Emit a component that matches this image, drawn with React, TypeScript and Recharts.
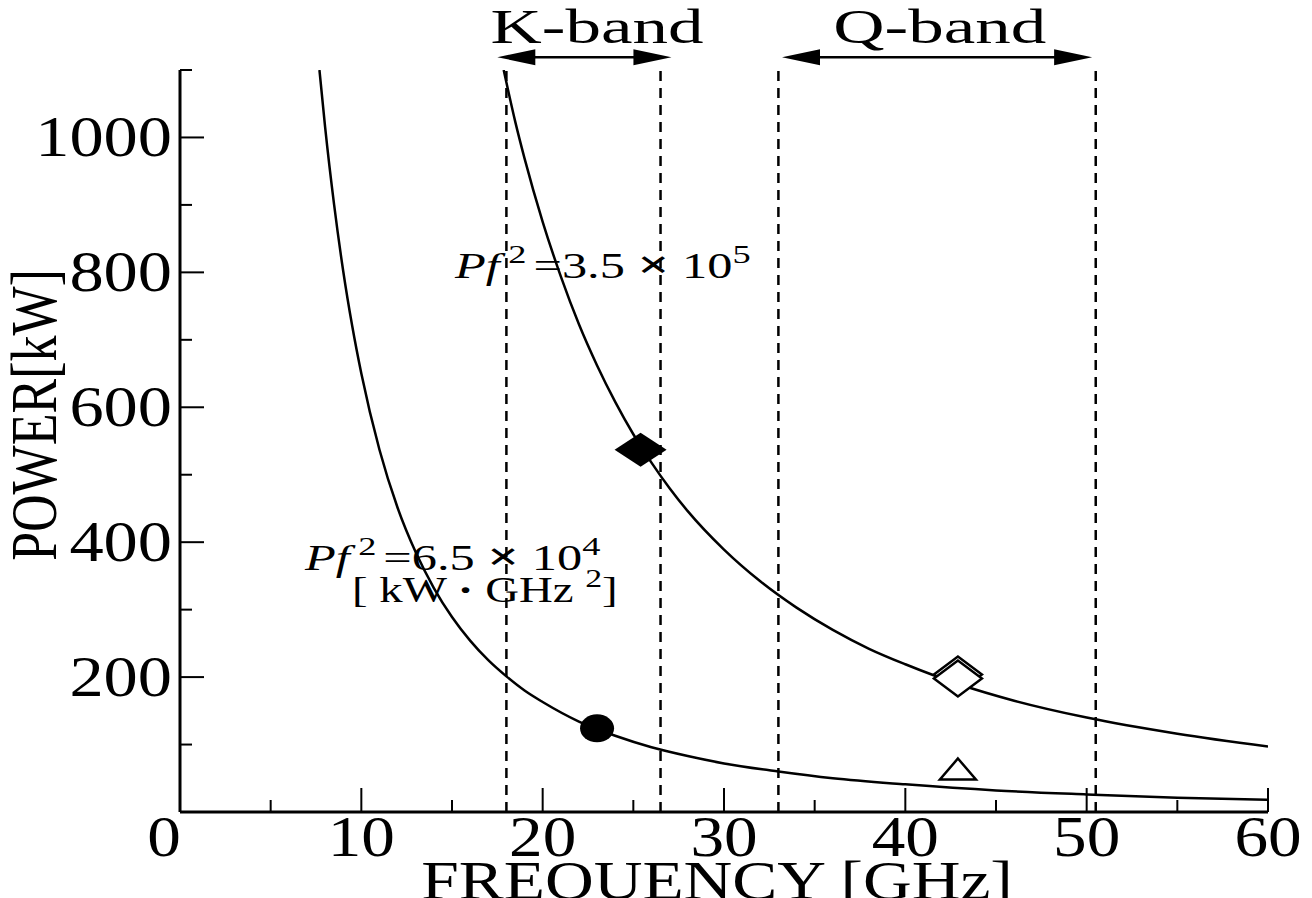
import React from 'react';
import {
  ComposedChart,
  Line,
  Scatter,
  XAxis,
  YAxis,
  ReferenceLine,
  ReferenceDot,
} from 'recharts';

// curves (frequency GHz -> power kW)
const upperCurve = [
  { f: 17.85, p: 1100 }, { f: 18.5, p: 1022 }, { f: 19, p: 969 }, { f: 20, p: 875 },
  { f: 21, p: 794 }, { f: 22, p: 723 }, { f: 23, p: 662 }, { f: 24, p: 608 },
  { f: 25, p: 560 }, { f: 26, p: 518 }, { f: 27, p: 480 }, { f: 28, p: 446 },
  { f: 30, p: 389 }, { f: 32, p: 342 }, { f: 34, p: 303 }, { f: 36, p: 270 },
  { f: 38, p: 242 }, { f: 40, p: 219 }, { f: 43, p: 189 }, { f: 46, p: 165 },
  { f: 50, p: 140 }, { f: 55, p: 116 }, { f: 60, p: 97 },
];

const lowerCurve = [
  { f: 7.69, p: 1100 }, { f: 8, p: 1016 }, { f: 8.5, p: 900 }, { f: 9, p: 802 },
  { f: 9.5, p: 720 }, { f: 10, p: 650 }, { f: 11, p: 537 }, { f: 12, p: 451 },
  { f: 13, p: 385 }, { f: 14, p: 332 }, { f: 15, p: 289 }, { f: 16, p: 254 },
  { f: 17, p: 225 }, { f: 18, p: 201 }, { f: 19, p: 180 }, { f: 20, p: 163 },
  { f: 22, p: 134 }, { f: 24, p: 113 }, { f: 26, p: 96 }, { f: 28, p: 83 },
  { f: 30, p: 72 }, { f: 33, p: 60 }, { f: 36, p: 50 }, { f: 40, p: 41 },
  { f: 45, p: 32 }, { f: 50, p: 26 }, { f: 55, p: 21 }, { f: 60, p: 18 },
];

const filledDiamond = [{ f: 25.4, p: 537 }];
const openDiamond = [{ f: 42.9, p: 198 }];
const filledCircle = [{ f: 23.0, p: 124 }];
const openTriangle = [{ f: 42.9, p: 63 }];

const bandEdges = [18, 26.5, 33, 50.5];
const bandNames = ['K-band', 'Q-band'];
const bandArrowFrom = [17.5, 33.2];
const bandArrowTo = [27.1, 50.3];
const bandLabelAt = [23.0, 41.9];

const xTicks = [0, 5, 10, 15, 20, 25, 30, 35, 40, 45, 50, 55, 60];
const yTicks = [0, 100, 200, 300, 400, 500, 600, 700, 800, 900, 1000, 1100];

const FONT = '"Liberation Serif", "Times New Roman", serif';
const MAJOR = 24;
const MINOR = 12;

function BottomTick({ x, y, payload }: any) {
  const v = payload.value;
  const major = v % 10 === 0;
  return (
    <g>
      <line x1={x} y1={y} x2={x} y2={y - (major ? MAJOR : MINOR)} stroke="#000" strokeWidth={2} />
      {major && (
        <g transform={`translate(${x + (v === 0 ? -16 : 0)},${y + 44}) scale(1.2,1)`}>
          <text x={0} y={0} textAnchor="middle" fontFamily={FONT} fontSize={56} fill="#000">
            {v}
          </text>
        </g>
      )}
    </g>
  );
}

function TopTick({ x, y, payload }: any) {
  const major = payload.value % 10 === 0;
  return <line x1={x} y1={y} x2={x} y2={y + (major ? MAJOR : MINOR)} stroke="#000" strokeWidth={2} />;
}

function LeftTick({ x, y, payload }: any) {
  const v = payload.value;
  const major = v % 200 === 0;
  return (
    <g>
      <line x1={x} y1={y} x2={x + (major ? MAJOR : MINOR)} y2={y} stroke="#000" strokeWidth={2} />
      {major && v > 0 && (
        <g transform={`translate(${x - 8},${y + 19}) scale(1.2,1)`}>
          <text x={0} y={0} textAnchor="end" fontFamily={FONT} fontSize={57} fill="#000">
            {v}
          </text>
        </g>
      )}
    </g>
  );
}

function RightTick({ x, y, payload }: any) {
  const major = payload.value % 200 === 0;
  return <line x1={x} y1={y} x2={x - (major ? MAJOR : MINOR)} y2={y} stroke="#000" strokeWidth={2} />;
}

function Arrow(props: any) {
  const { x1, y1, x2 } = props;
  const hl = 38;
  const hw = 8;
  return (
    <g>
      <line x1={x1 + hl - 2} y1={y1} x2={x2 - hl + 2} y2={y1} stroke="#000" strokeWidth={2.5} />
      <polygon points={`${x1},${y1} ${x1 + hl},${y1 - hw} ${x1 + hl},${y1 + hw}`} fill="#000" />
      <polygon points={`${x2},${y1} ${x2 - hl},${y1 - hw} ${x2 - hl},${y1 + hw}`} fill="#000" />
    </g>
  );
}

const bandText = (name: string) => (props: any) => (
  <g transform={`translate(${props.cx},${props.cy}) scale(1.45,1)`}>
    <text x={0} y={0} textAnchor="middle" fontFamily={FONT} fontSize={49} fill="#000">
      {name}
    </text>
  </g>
);

const pfText = (coef: string, exp: string) => (props: any) => (
  <g transform={`translate(${props.cx},${props.cy}) scale(1.4,1)`}>
    <text x={0} y={0} fontFamily={FONT} fontSize={36} fill="#000">
      <tspan fontStyle="italic">Pf</tspan>
      <tspan fontSize={26} dx={6} dy={-15}>2</tspan>
      <tspan dx={5} dy={15}>={coef} </tspan>
      <tspan fontWeight="bold" fontSize={40}>×</tspan>
      <tspan> 10</tspan>
      <tspan fontSize={26} dy={-15}>{exp}</tspan>
    </text>
  </g>
);

const unitText = (props: any) => (
  <g transform={`translate(${props.cx},${props.cy}) scale(1.3,1)`}>
    <text x={0} y={0} fontFamily={FONT} fontSize={36} fill="#000">
      <tspan>[ kW </tspan>
      <tspan fontWeight="bold">·</tspan>
      <tspan> GHz </tspan>
      <tspan fontSize={26} dy={-15}>2</tspan>
      <tspan dy={15}>]</tspan>
    </text>
  </g>
);

function FilledDiamondShape({ cx, cy }: any) {
  return <polygon points={`${cx - 26},${cy} ${cx},${cy - 17} ${cx + 26},${cy} ${cx},${cy + 17}`} fill="#000" />;
}

function OpenDiamondShape({ cx, cy }: any) {
  const pts = (c: number) => `${cx - 24},${c} ${cx},${c - 18} ${cx + 24},${c} ${cx},${c + 18}`;
  return (
    <g>
      <polygon points={pts(cy - 4)} fill="none" stroke="#000" strokeWidth={2.5} />
      <polygon points={pts(cy)} fill="#fff" stroke="#000" strokeWidth={2.5} />
    </g>
  );
}

function CircleShape({ cx, cy }: any) {
  return <ellipse cx={cx} cy={cy} rx={17} ry={14} fill="#000" />;
}

function TriangleShape({ cx, cy }: any) {
  return (
    <polygon
      points={`${cx},${cy - 11} ${cx + 18},${cy + 10} ${cx - 18},${cy + 10}`}
      fill="#fff"
      stroke="#000"
      strokeWidth={2.5}
    />
  );
}

export default function App() {
  return (
    <div style={{ position: 'absolute', left: 0, top: 0, background: '#fff' }}>
      <ComposedChart width={1312} height={898} margin={{ top: 70, right: 44, bottom: 0, left: 0 }}>
        <XAxis
          xAxisId={0}
          type="number"
          dataKey="f"
          domain={[0, 60]}
          ticks={xTicks}
          interval={0}
          height={86}
          tickLine={false}
          tickSize={0}
          tickMargin={0}
          tick={BottomTick}
          axisLine={{ stroke: '#000', strokeWidth: 3 }}
          allowDataOverflow
          label={{
            content: () => (
              <g transform={`translate(717,899) scale(1.25,1)`}>
                <text x={0} y={0} textAnchor="middle" fontFamily={FONT} fontSize={54} fill="#000">
                  FREQUENCY [GHz]
                </text>
              </g>
            ),
          }}
        />
        <XAxis
          xAxisId="top"
          orientation="top"
          type="number"
          dataKey="f"
          domain={[0, 60]}
          ticks={xTicks}
          interval={0}
          height={0}
          tickLine={false}
          tickSize={0}
          tickMargin={0}
          tick={TopTick}
          axisLine={{ stroke: '#000', strokeWidth: 2.5 }}
          allowDataOverflow
        />
        <YAxis
          yAxisId={0}
          type="number"
          dataKey="p"
          domain={[0, 1100]}
          ticks={yTicks}
          interval={0}
          width={180}
          tickLine={false}
          tickSize={0}
          tickMargin={0}
          tick={LeftTick}
          axisLine={{ stroke: '#000', strokeWidth: 3 }}
          allowDataOverflow
          label={{
            content: () => (
              <g transform={`translate(56,415) scale(1.25,1) rotate(-90)`}>
                <text x={0} y={0} textAnchor="middle" fontFamily={FONT} fontSize={52} fill="#000">
                  POWER[kW]
                </text>
              </g>
            ),
          }}
        />
        <YAxis
          yAxisId="right"
          orientation="right"
          type="number"
          dataKey="p"
          domain={[0, 1100]}
          ticks={yTicks}
          interval={0}
          width={0}
          tickLine={false}
          tickSize={0}
          tickMargin={0}
          tick={RightTick}
          axisLine={{ stroke: '#000', strokeWidth: 3 }}
          allowDataOverflow
        />

        {bandEdges.map((x) => (
          <ReferenceLine key={x} x={x} stroke="#000" strokeWidth={2.5} strokeDasharray="10 7" />
        ))}

        <Line data={upperCurve} dataKey="p" type="monotone" dot={false} stroke="#000" strokeWidth={2.5} isAnimationActive={false} />
        <Line data={lowerCurve} dataKey="p" type="monotone" dot={false} stroke="#000" strokeWidth={2.5} isAnimationActive={false} />

        <Scatter data={filledDiamond} dataKey="p" shape={FilledDiamondShape} isAnimationActive={false} />
        <Scatter data={openDiamond} dataKey="p" shape={OpenDiamondShape} isAnimationActive={false} />
        <Scatter data={filledCircle} dataKey="p" shape={CircleShape} isAnimationActive={false} />
        <Scatter data={openTriangle} dataKey="p" shape={TriangleShape} isAnimationActive={false} />

        {bandNames.map((name, i) => (
          <ReferenceLine
            key={name + '-arrow'}
            segment={[{ x: bandArrowFrom[i], y: 1119 }, { x: bandArrowTo[i], y: 1119 }]}
            ifOverflow="visible"
            shape={Arrow}
          />
        ))}
        {bandNames.map((name, i) => (
          <ReferenceDot key={name} x={bandLabelAt[i]} y={1140} r={0} ifOverflow="visible" shape={bandText(name)} />
        ))}

        <ReferenceDot x={15.17} y={792} r={0} ifOverflow="visible" shape={pfText('3.5', '5')} />
        <ReferenceDot x={6.89} y={359} r={0} ifOverflow="visible" shape={pfText('6.5', '4')} />
        <ReferenceDot x={9.49} y={311} r={0} ifOverflow="visible" shape={unitText} />
      </ComposedChart>
    </div>
  );
}
